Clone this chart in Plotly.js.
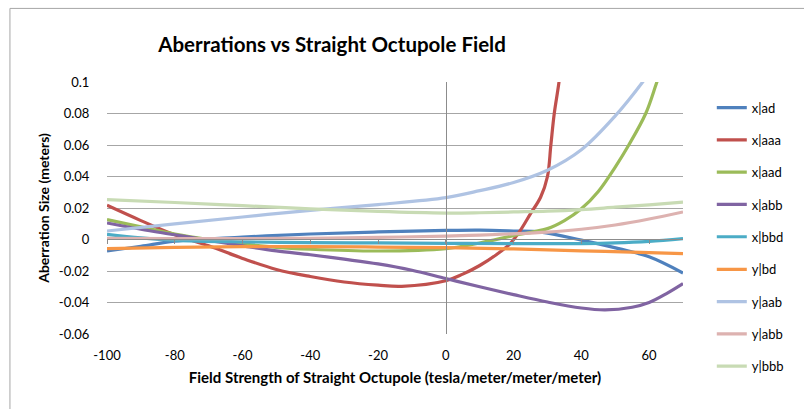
<!DOCTYPE html>
<html>
<head>
<meta charset="utf-8">
<script src="https://cdn.plot.ly/plotly-3.0.1.min.js"></script>
<style>html,body{margin:0;padding:0;background:#fff;}#chart{width:804px;height:409px;}</style>
</head>
<body>
<div id="chart"></div>
<script>
// Series names
const seriesNames = ["x|ad", "x|aaa", "x|aad", "x|abb", "x|bbd", "y|bd", "y|aab", "y|abb", "y|bbb"];

// Field strength values (x) and aberration sizes (y)
const xAd   = [-100, -90, -80, -60, -40, -20, 0, 10, 20, 28, 40, 51, 60, 70];
const yAd   = [-0.0073, -0.0043, -0.001, 0.0015, 0.0035, 0.0048, 0.0058, 0.006, 0.0054, 0.0047, -0.0004, -0.0058, -0.011, -0.0213];

const xAaa  = [-100, -90, -80, -70, -60, -50, -40, -30, -20, -13, 0, 5, 10, 15, 19, 22, 25, 28, 30, 31, 32, 33.4, 35];
const yAaa  = [0.0217, 0.012, 0.003, -0.004, -0.012, -0.019, -0.0235, -0.027, -0.029, -0.0297, -0.0262, -0.022, -0.0165, -0.0095, -0.0026, 0.0058, 0.0164, 0.027, 0.04, 0.06, 0.08, 0.1, 0.13];

const xAad  = [-100, -90, -80, -70, -60, -50, -40, -20, 0, 10, 20, 30, 35, 40, 45, 50, 54, 59, 62.3, 64];
const yAad  = [0.0126, 0.008, 0.0035, 0.0, -0.0028, -0.005, -0.0062, -0.0073, -0.0058, -0.0022, 0.0025, 0.0069, 0.012, 0.0195, 0.0305, 0.046, 0.06, 0.08, 0.1, 0.11];

const xAbb  = [-100, -90, -80, -70, -60, -50, -40, -30, -20, -10, 0, 10, 20, 30, 40, 47, 55, 60, 65, 70];
const yAbb  = [0.0105, 0.0065, 0.003, -0.0006, -0.004, -0.0072, -0.0097, -0.0125, -0.0155, -0.0195, -0.0248, -0.030, -0.035, -0.0397, -0.0435, -0.0447, -0.043, -0.040, -0.0345, -0.028];

const xBbd  = [-100, -90, -80, -60, -40, -20, 0, 20, 40, 50, 60, 70];
const yBbd  = [0.0033, 0.001, -0.0005, -0.0015, -0.002, -0.0022, -0.0024, -0.0026, -0.0026, -0.0022, -0.0012, 0.0006];

const xBd   = [-100, -80, -60, -40, -20, 0, 20, 40, 60, 70];
const yBd   = [-0.0058, -0.005, -0.0045, -0.0045, -0.0048, -0.0052, -0.006, -0.0072, -0.0083, -0.009];

const xAab  = [-100, -80, -60, -40, -20, 0, 10, 20, 30, 40, 50, 58.1, 62];
const yAab  = [0.0054, 0.0099, 0.0143, 0.0185, 0.0222, 0.0266, 0.031, 0.0362, 0.044, 0.057, 0.0785, 0.1, 0.112];

const xAbbY = [-100, -80, -60, -40, -20, 0, 10, 20, 30, 40, 50, 60, 70];
const yAbbY = [0.0008, 0.0006, 0.0006, 0.0008, 0.0013, 0.0022, 0.0028, 0.0036, 0.0047, 0.0065, 0.0092, 0.013, 0.0175];

const xBbb  = [-100, -80, -60, -40, -20, 0, 10, 20, 30, 40, 50, 60, 70];
const yBbb  = [0.0253, 0.0235, 0.0215, 0.0195, 0.0178, 0.0168, 0.017, 0.0175, 0.018, 0.019, 0.0205, 0.022, 0.0238];

// Axis ticks
const xTickVals = [-100, -80, -60, -40, -20, 0, 20, 40, 60];
const xTickText = ["-100", "-80", "-60", "-40", "-20", "0", "20", "40", "60"];
const yTickVals = [-0.06, -0.04, -0.02, 0, 0.02, 0.04, 0.06, 0.08, 0.1];
const yTickText = ["-0.06", "-0.04", "-0.02", "0", "0.02", "0.04", "0.06", "0.08", "0.1"];

const colors = ["#4F81BD", "#C0504D", "#9BBB59", "#8064A2", "#4BACC6", "#F79646", "#AFC3E3", "#DDB2B0", "#C8DBB4"];
const xs = [xAd, xAaa, xAad, xAbb, xBbd, xBd, xAab, xAbbY, xBbb];
const ys = [yAd, yAaa, yAad, yAbb, yBbd, yBd, yAab, yAbbY, yBbb];

const FONT = "Lato, 'Open Sans', sans-serif";

const traces = seriesNames.map((name, i) => ({
  type: "scatter",
  mode: "lines",
  name: name,
  legend: i < 5 ? "legend" : "legend2",
  legendgroup: "g" + i,
  x: xs[i],
  y: ys[i],
  line: {color: colors[i], width: 3.2, shape: "spline", smoothing: 1}
}));

// invisible traces to create axes crossing at zero
traces.push({type: "scatter", mode: "lines", x: [-100, 70], y: [null, null], xaxis: "x2", yaxis: "y", showlegend: false, hoverinfo: "skip"});
traces.push({type: "scatter", mode: "lines", x: [null, null], y: [-0.06, 0.1], xaxis: "x", yaxis: "y2", showlegend: false, hoverinfo: "skip"});

const legendBase = {
  x: 1.05, xanchor: "left",
  yanchor: "top",
  font: {family: FONT, size: 13, color: "#000"},
  tracegroupgap: 12.4,
  bgcolor: "rgba(0,0,0,0)",
  itemwidth: 30
};

const layout = {
  width: 804,
  height: 409,
  paper_bgcolor: "#ffffff",
  plot_bgcolor: "#ffffff",
  margin: {l: 107, r: 121, t: 82, b: 75},
  font: {family: FONT, color: "#000", size: 13},
  title: {
    text: "<b>Aberrations vs Straight Octupole Field</b>",
    font: {family: FONT, size: 20.5, color: "#000"},
    xref: "container", yref: "container",
    x: 0.413, xanchor: "center",
    y: 0.89, yanchor: "middle"
  },
  showlegend: true,
  legend: Object.assign({}, legendBase, {y: 0.958}),
  legend2: Object.assign({}, legendBase, {y: 0.316}),
  xaxis: {
    range: [-100, 70],
    tickmode: "array",
    tickvals: xTickVals,
    ticktext: xTickText,
    ticks: "outside", ticklen: 9, tickcolor: "rgba(0,0,0,0)",
    showgrid: false,
    zeroline: false,
    showline: false,
    tickfont: {family: FONT, size: 13, color: "#000"},
    title: {text: "<b>Field Strength of Straight Octupole (tesla/meter/meter/meter)</b>", font: {family: FONT, size: 15, color: "#000"}, standoff: 10}
  },
  xaxis2: {
    range: [-100, 70],
    overlaying: "x",
    anchor: "free",
    position: 0.3757,
    side: "bottom",
    tickmode: "array",
    tickvals: xTickVals,
    showticklabels: false,
    ticks: "outside", ticklen: 4, tickcolor: "#8C8C8C",
    showgrid: false, zeroline: false,
    showline: true, linecolor: "#8C8C8C", linewidth: 1
  },
  yaxis: {
    range: [-0.06, 0.1],
    tickmode: "array",
    tickvals: yTickVals,
    ticktext: yTickText,
    ticks: "outside", ticklen: 14, tickcolor: "rgba(0,0,0,0)",
    showgrid: true, gridcolor: "#A6A6A6", gridwidth: 1,
    zeroline: false,
    showline: false,
    tickfont: {family: FONT, size: 13, color: "#000"},
    title: {text: "<b>Aberration Size (meters)</b>", font: {family: FONT, size: 14, color: "#000"}, standoff: 5}
  },
  yaxis2: {
    range: [-0.06, 0.1],
    overlaying: "y",
    anchor: "free",
    position: 0.5884,
    side: "left",
    tickmode: "array",
    tickvals: yTickVals,
    showticklabels: false,
    ticks: "", showgrid: false, zeroline: false,
    showline: true, linecolor: "#8C8C8C", linewidth: 1
  },
  shapes: [{
    type: "rect", xref: "paper", yref: "paper",
    x0: -0.1685, x1: 1.3, y0: -0.35, y1: 1.292,
    line: {color: "#A6A6A6", width: 1},
    fillcolor: "rgba(0,0,0,0)",
    layer: "below"
  }]
};

Plotly.newPlot("chart", traces, layout, {displayModeBar: false, staticPlot: true});
</script>
</body>
</html>
